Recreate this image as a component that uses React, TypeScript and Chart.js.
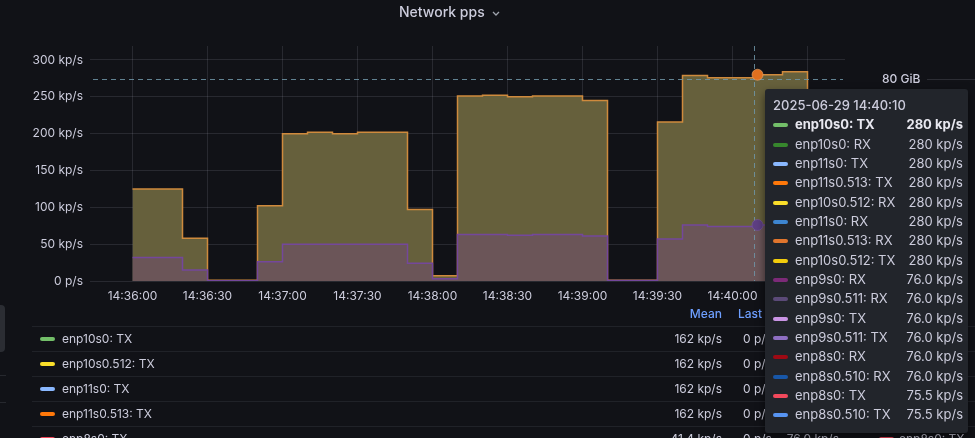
import React, { useEffect, useRef } from "react";
import { Chart, registerables } from "chart.js";

Chart.register(...registerables);

// ---------- data ----------
const times = [
  "14:36:00", "14:36:10", "14:36:20", "14:36:30", "14:36:40", "14:36:50",
  "14:37:00", "14:37:10", "14:37:20", "14:37:30", "14:37:40", "14:37:50",
  "14:38:00", "14:38:10", "14:38:20", "14:38:30", "14:38:40", "14:38:50",
  "14:39:00", "14:39:10", "14:39:20", "14:39:30", "14:39:40", "14:39:50",
  "14:40:00", "14:40:10", "14:40:20", "14:40:30",
];
// kp/s, enp10s0 / enp10s0.512 / enp11s0 / enp11s0.513 (TX & RX, overlapping)
const upperGroupKpps = [
  125, 125, 58, 1, 1, 102,
  200, 202, 200, 202, 202, 97,
  7, 251, 252, 250, 251, 251,
  245, 1, 1, 216, 279, 276,
  276, 280, 284, 0,
];
// kp/s, enp8s0 / enp8s0.510 / enp9s0 / enp9s0.511 (TX & RX, overlapping)
const lowerGroupKpps = [
  32, 32, 15, 0.5, 0.5, 26,
  50, 50, 50, 50, 50, 24,
  3, 63, 63, 62, 63, 63,
  61, 0.8, 0.8, 57, 76, 74,
  74, 76, 76, 0,
];
const groupLabels = ["enp8s0 / enp9s0", "enp10s0 / enp11s0"];

const xTickTimes = [
  "14:36:00", "14:36:30", "14:37:00", "14:37:30", "14:38:00",
  "14:38:30", "14:39:00", "14:39:30", "14:40:00", "14:40:30",
];
const yTickValues = [0, 50, 100, 150, 200, 250, 300];
const axisStart = "14:35:43";
const axisEnd = "14:40:45";
const yAxisMax = 319;

const hoverTime = "14:40:10";
const crosshairTime = "14:40:08.6";
const crosshairValue = 274.5;
const sideLabel = "80 GiB";

const panelTitle = "Network pps";

const tooltipTitle = "2025-06-29 14:40:10";
const tooltipNames = [
  "enp10s0: TX", "enp10s0: RX", "enp11s0: TX", "enp11s0.513: TX",
  "enp10s0.512: RX", "enp11s0: RX", "enp11s0.513: RX", "enp10s0.512: TX",
  "enp9s0: RX", "enp9s0.511: RX", "enp9s0: TX", "enp9s0.511: TX",
  "enp8s0: RX", "enp8s0.510: RX", "enp8s0: TX", "enp8s0.510: TX",
];
const tooltipColors = [
  "#73bf69", "#37872d", "#8ab8ff", "#ff780a",
  "#fade2a", "#3d85d0", "#e0752d", "#f2cc0c",
  "#7c2a78", "#5b4a78", "#ca95e5", "#8e6fc2",
  "#9e0a14", "#1857a8", "#f2495c", "#5794f2",
];
const tooltipValues = [
  "280 kp/s", "280 kp/s", "280 kp/s", "280 kp/s",
  "280 kp/s", "280 kp/s", "280 kp/s", "280 kp/s",
  "76.0 kp/s", "76.0 kp/s", "76.0 kp/s", "76.0 kp/s",
  "76.0 kp/s", "76.0 kp/s", "75.5 kp/s", "75.5 kp/s",
];

const legendNames = ["enp10s0: TX", "enp10s0.512: TX", "enp11s0: TX", "enp11s0.513: TX", "enp8s0: TX"];
const legendColors = ["#73bf69", "#fade2a", "#8ab8ff", "#ff780a", "#f2495c"];
const legendMean = ["162 kp/s", "162 kp/s", "162 kp/s", "162 kp/s", "41.4 kp/s"];
const legendLast = ["0 p/s", "0 p/s", "0 p/s", "0 p/s", "0 p/s"];
const legendMax = ["284 kp/s", "284 kp/s", "284 kp/s", "284 kp/s", "76.0 kp/s"];
const legendHeaders = ["Mean", "Last", "Max"];

// ---------- helpers ----------
const toSec = (t: string) => {
  const [h, m, s] = t.split(":").map(Number);
  return h * 3600 + m * 60 + s;
};
const pad = (n: number) => String(n).padStart(2, "0");
const fmtTime = (v: number) => {
  const r = Math.round(v);
  return `${pad(Math.floor(r / 3600))}:${pad(Math.floor((r % 3600) / 60))}:${pad(r % 60)}`;
};
const fmtPps = (v: number) => (v === 0 ? "0 p/s" : `${v} kp/s`);

const FONT = "Inter, 'Noto Sans', 'DejaVu Sans', sans-serif";
const BG = "#111217";
const TEXT = "#ccccdc";

const hoverIndex = times.indexOf(hoverTime);
const hoverDotColors = ["#5e3f83", "#e0701f"];

const crosshairPlugin = {
  id: "crosshair",
  afterDatasetsDraw(chart: any) {
    const { ctx, chartArea: a, scales } = chart;
    const cx = Math.round(scales.x.getPixelForValue(toSec(crosshairTime))) + 0.5;
    const cy = Math.round(scales.y.getPixelForValue(crosshairValue)) + 0.5;
    ctx.save();
    ctx.strokeStyle = "rgba(112,150,168,0.85)";
    ctx.lineWidth = 1;
    ctx.setLineDash([5, 4]);
    ctx.beginPath();
    ctx.moveTo(a.left + 3, cy);
    ctx.lineTo(a.right - 2, cy);
    ctx.moveTo(cx, a.top);
    ctx.lineTo(cx, a.bottom);
    ctx.stroke();
    ctx.setLineDash([]);
    // hover points
    chart.data.datasets.forEach((_: any, i: number) => {
      const el = chart.getDatasetMeta(i).data[hoverIndex];
      if (!el) return;
      ctx.beginPath();
      ctx.arc(el.x, el.y, 5.5, 0, Math.PI * 2);
      ctx.fillStyle = hoverDotColors[i];
      ctx.fill();
      ctx.lineWidth = 1;
      ctx.strokeStyle = i === 1 ? "rgba(240,170,110,0.6)" : "rgba(120,90,160,0.6)";
      ctx.stroke();
    });
    // neighbouring panel's cursor label
    ctx.font = `500 12px ${FONT}`;
    ctx.fillStyle = TEXT;
    ctx.textBaseline = "middle";
    ctx.textAlign = "left";
    ctx.fillText(sideLabel, a.right + 37, cy);
    ctx.strokeStyle = "rgba(204,204,220,0.15)";
    ctx.beginPath();
    ctx.moveTo(a.right + 82, cy);
    ctx.lineTo(chart.width, cy);
    ctx.stroke();
    ctx.restore();
  },
};

function ChartCanvas() {
  const ref = useRef<HTMLCanvasElement | null>(null);
  useEffect(() => {
    if (!ref.current) return;
    const xs = times.map(toSec);
    const chart = new Chart(ref.current, {
      type: "line",
      data: {
        datasets: [
          {
            label: groupLabels[0],
            data: xs.map((x, i) => ({ x, y: lowerGroupKpps[i] })),
            borderColor: "#74479b",
            backgroundColor: "#6b5558",
            borderWidth: 1.5,
            fill: "origin",
            stepped: "before",
            pointRadius: 0,
          },
          {
            label: groupLabels[1],
            data: xs.map((x, i) => ({ x, y: upperGroupKpps[i] })),
            borderColor: "#cf8a3d",
            backgroundColor: "#66603c",
            borderWidth: 1.5,
            fill: "origin",
            stepped: "before",
            pointRadius: 0,
          },
        ],
      },
      options: {
        animation: false,
        responsive: false,
        layout: { padding: { left: 0, right: 130, top: 46, bottom: 133 } },
        plugins: { legend: { display: false }, tooltip: { enabled: false } },
        scales: {
          x: {
            type: "linear",
            min: toSec(axisStart),
            max: toSec(axisEnd),
            afterBuildTicks: (s: any) => {
              s.ticks = xTickTimes.map((t) => ({ value: toSec(t) }));
            },
            afterFit: (s: any) => {
              s.height = 24;
            },
            grid: { color: "rgba(204,204,220,0.13)", drawTicks: false },
            border: { display: false },
            ticks: {
              autoSkip: false,
              maxRotation: 0,
              padding: 8,
              color: TEXT,
              font: { family: FONT, size: 12 },
              callback: (v: any) => fmtTime(Number(v)),
            },
          },
          y: {
            min: 0,
            max: yAxisMax,
            afterBuildTicks: (s: any) => {
              s.ticks = yTickValues.map((v) => ({ value: v }));
            },
            afterFit: (s: any) => {
              s.width = 90;
            },
            grid: { color: "rgba(204,204,220,0.13)", drawTicks: false },
            border: { display: false },
            ticks: {
              padding: 7,
              color: TEXT,
              font: { family: FONT, size: 12 },
              callback: (v: any) => fmtPps(Number(v)),
            },
          },
        },
      },
      plugins: [crosshairPlugin],
    } as any);
    return () => chart.destroy();
  }, []);
  return (
    <canvas
      ref={ref}
      width={975}
      height={438}
      style={{ position: "absolute", left: 0, top: 0, width: 975, height: 438 }}
    />
  );
}

const swatch = (color: string, left: number, top: number) => (
  <div
    style={{
      position: "absolute",
      left,
      top,
      width: 15,
      height: 4,
      borderRadius: 2,
      background: color,
    }}
  />
);

export default function App() {
  const rowTop = 326;
  const rowH = 25;
  return (
    <div
      style={{
        position: "fixed",
        left: 0,
        top: 0,
        width: 975,
        height: 438,
        overflow: "hidden",
        background: BG,
        fontFamily: FONT,
        color: TEXT,
      }}
    >
      <ChartCanvas />

      {/* title */}
      <div
        style={{
          position: "absolute",
          left: 399,
          top: 2,
          fontSize: 14,
          fontWeight: 500,
          lineHeight: "20px",
          color: TEXT,
          whiteSpace: "nowrap",
        }}
      >
        {panelTitle}
      </div>
      <svg
        width={10}
        height={8}
        style={{ position: "absolute", left: 491, top: 10 }}
        viewBox="0 0 10 8"
      >
        <polyline points="2,2 5,5 8,2" fill="none" stroke="#9fa3ad" strokeWidth={1.3} />
      </svg>

      {/* left neighbouring element */}
      <div
        style={{
          position: "absolute",
          left: 0,
          top: 305,
          width: 5,
          height: 47,
          background: "#2b2d33",
          borderRadius: "0 4px 4px 0",
        }}
      />
      <div style={{ position: "absolute", left: 0, top: 375, width: 6, height: 1, background: "#26282e" }} />
      <div style={{ position: "absolute", left: 0, top: 402, width: 6, height: 1, background: "#26282e" }} />

      {/* legend table header */}
      <div
        style={{
          position: "absolute",
          left: 620,
          width: 102,
          top: 305,
          textAlign: "right",
          fontSize: 12,
          fontWeight: 500,
          lineHeight: "18px",
          color: "#6e9fff",
        }}
      >
        {legendHeaders[0]}
      </div>
      <div
        style={{
          position: "absolute",
          left: 738,
          top: 305,
          fontSize: 12,
          fontWeight: 500,
          lineHeight: "18px",
          color: "#6e9fff",
        }}
      >
        {legendHeaders[1]}
      </div>
      <div
        style={{
          position: "absolute",
          left: 800,
          top: 305,
          fontSize: 12,
          fontWeight: 500,
          lineHeight: "18px",
          color: "#6e9fff",
        }}
      >
        {legendHeaders[2]}
      </div>

      {/* legend rows */}
      {legendNames.map((name, i) => {
        const top = rowTop + i * rowH;
        return (
          <React.Fragment key={name}>
            <div
              style={{
                position: "absolute",
                left: 32,
                width: 943,
                top,
                height: 1,
                background: "#202228",
              }}
            />
            {swatch(legendColors[i], 40, top + 11)}
            <div
              style={{
                position: "absolute",
                left: 62,
                top: top + 4,
                fontSize: 12,
                lineHeight: "18px",
                whiteSpace: "nowrap",
              }}
            >
              {name}
            </div>
            <div
              style={{
                position: "absolute",
                left: 600,
                width: 122,
                top: top + 4,
                fontSize: 12,
                lineHeight: "18px",
                textAlign: "right",
                whiteSpace: "nowrap",
              }}
            >
              {legendMean[i]}
            </div>
            <div
              style={{
                position: "absolute",
                left: 743,
                top: top + 4,
                fontSize: 12,
                lineHeight: "18px",
                whiteSpace: "nowrap",
              }}
            >
              {legendLast[i]}
            </div>
            <div
              style={{
                position: "absolute",
                left: 760,
                width: 79,
                top: top + 4,
                fontSize: 12,
                lineHeight: "18px",
                textAlign: "right",
                whiteSpace: "nowrap",
              }}
            >
              {legendMax[i]}
            </div>
          </React.Fragment>
        );
      })}
      {/* neighbouring panel legend fragment */}
      {swatch(legendColors[4], 879, rowTop + 4 * rowH + 11)}
      <div
        style={{
          position: "absolute",
          left: 899,
          top: rowTop + 4 * rowH + 4,
          fontSize: 12,
          lineHeight: "18px",
          whiteSpace: "nowrap",
        }}
      >
        {legendNames[4]}
      </div>

      {/* tooltip */}
      <div
        style={{
          position: "absolute",
          left: 765,
          top: 89,
          width: 203,
          height: 344,
          background: "#22252b",
          borderRadius: 3,
          boxShadow: "0 4px 10px rgba(0,0,0,0.55)",
          boxSizing: "border-box",
          paddingTop: 7,
        }}
      >
        <div
          style={{
            height: 19.33,
            lineHeight: "19.33px",
            paddingLeft: 8,
            fontSize: 13,
            fontWeight: 500,
            whiteSpace: "nowrap",
          }}
        >
          {tooltipTitle}
        </div>
        {tooltipNames.map((name, i) => (
          <div
            key={name}
            style={{
              position: "relative",
              height: 19.33,
              lineHeight: "19.33px",
              fontSize: 13,
              fontWeight: i === 0 ? 700 : 400,
              color: i === 0 ? "#e8e8f0" : TEXT,
              whiteSpace: "nowrap",
            }}
          >
            {swatch(tooltipColors[i], 8, 8)}
            <span style={{ position: "absolute", left: 30 }}>{name}</span>
            <span style={{ position: "absolute", right: 5 }}>{tooltipValues[i]}</span>
          </div>
        ))}
      </div>
    </div>
  );
}
